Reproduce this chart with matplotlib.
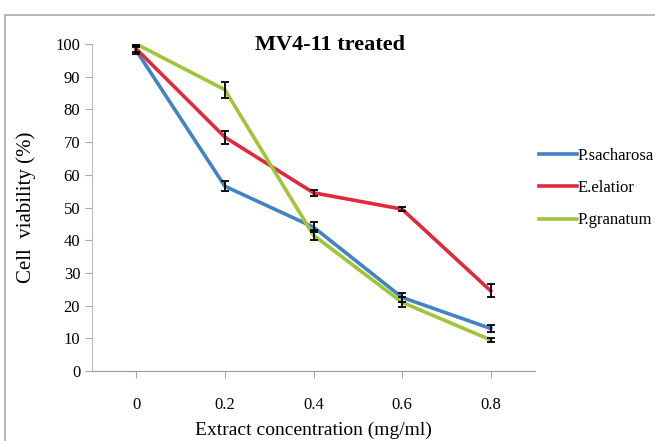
import matplotlib.pyplot as plt
import matplotlib.patches as mpatches
import numpy as np

plt.rcParams['font.family'] = ['Liberation Serif', 'DejaVu Serif']

# data
concentrations = ['0', '0.2', '0.4', '0.6', '0.8']
sacharosa = [98, 56.5, 44, 22.5, 13]
sacharosa_err = [1.0, 1.5, 1.5, 1.5, 1.0]
elatior = [98.5, 71.5, 54.5, 49.5, 24.5]
elatior_err = [1.0, 2.0, 1.0, 0.7, 2.0]
granatum = [100, 86, 41.5, 21, 9.5]
granatum_err = [0.3, 2.5, 1.5, 1.5, 0.5]

series = [('P.sacharosa', sacharosa, sacharosa_err, '#4283C4'),
          ('E.elatior', elatior, elatior_err, '#E2283C'),
          ('P.granatum', granatum, granatum_err, '#A0C43A')]

fig = plt.figure(figsize=(6.55, 4.41), dpi=100)
ax = fig.add_axes([92/655, 1-371/441, (535-92)/655, (371-44)/441])

x = np.arange(len(concentrations))
for name, vals, err, col in series:
    ax.plot(x, vals, color=col, linewidth=2.6, label=name, zorder=3)
    ax.errorbar(x, vals, yerr=err, fmt='none', ecolor='black',
                elinewidth=1.3, capsize=3, capthick=1.3, zorder=4)

ax.set_xlim(-0.5, 4.5)
ax.set_ylim(0, 100)
ax.set_yticks(range(0, 101, 10))
ax.set_xticks(x)
ax.set_xticklabels(concentrations)
ax.tick_params(axis='both', labelsize=12, color='#aaaaaa', length=5)
ax.tick_params(axis='x', pad=14)
for s in ['top', 'right']:
    ax.spines[s].set_visible(False)
ax.spines['left'].set_color('#bbbbbb')
ax.spines['bottom'].set_color('#999999')

ax.set_ylabel('Cell  viability (%)', fontsize=15, labelpad=14)
ax.set_xlabel('Extract concentration (mg/ml)', fontsize=14, labelpad=6)

fig.text(330/655, 1-45/441, 'MV4-11 treated', fontsize=16, fontweight='bold',
         ha='center', va='center')

fig.legend(loc='upper left', bbox_to_anchor=(532/655, 1-141/441), frameon=False,
           fontsize=12, handlelength=2.3, handletextpad=0.05, labelspacing=0.98,
           borderaxespad=0)

# outer frame
frame = mpatches.Rectangle((5/655, -0.1), 1.2, 1.1 - 15/441, transform=fig.transFigure,
                           fill=False, edgecolor='#aaaaaa', linewidth=1.2, clip_on=False)
fig.patches.append(frame)

plt.savefig('out.png', dpi=100)
